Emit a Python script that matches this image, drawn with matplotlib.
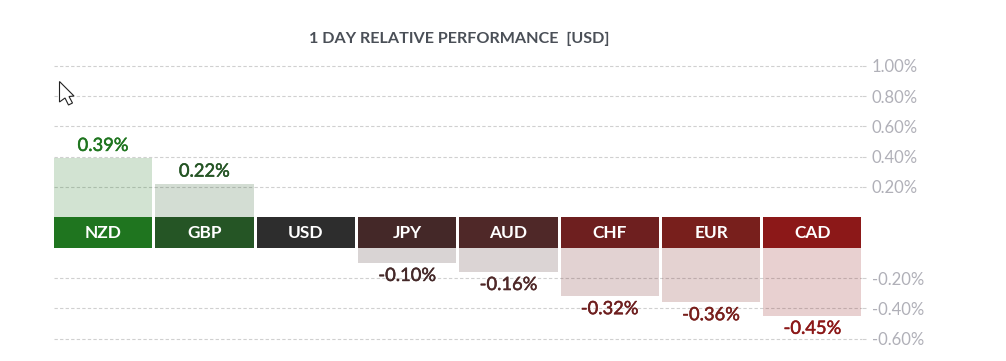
import numpy as np
import matplotlib
matplotlib.use('Agg')
import matplotlib.pyplot as plt
import matplotlib.patheffects as pe
from matplotlib.patches import Polygon

plt.rcParams['font.family'] = ['Lato', 'DejaVu Sans']

currencies = ['NZD', 'GBP', 'USD', 'JPY', 'AUD', 'CHF', 'EUR', 'CAD']
values = [0.39, 0.22, 0.0, -0.10, -0.16, -0.32, -0.36, -0.45]
colors = ['#1f751f', '#255525', '#2d2d2d', '#442828',
          '#4f2828', '#6e1f1f', '#781f1c', '#8c1818']
pos_ticks = [0.2, 0.4, 0.6, 0.8, 1.0]
neg_ticks = [-0.2, -0.4, -0.6]

W, H = 1006, 361
X0, X1 = 54, 861.5
ZERO_TOP, ZERO_BOT = 217, 248
PX_PER_PCT = 151.0
TOP_Y, BOT_Y = 60, 345
BAR_W = 0.97


def make_axes(y_top, y_bot):
    return fig.add_axes([X0 / W, 1 - y_bot / H, (X1 - X0) / W, (y_bot - y_top) / H])


fig = plt.figure(figsize=(W / 100, H / 100), dpi=100, facecolor='white')
ax_top = make_axes(TOP_Y, ZERO_TOP)
ax_band = make_axes(ZERO_TOP, ZERO_BOT)
ax_bot = make_axes(ZERO_BOT, BOT_Y)

ax_top.set_ylim(0, (ZERO_TOP - TOP_Y) / PX_PER_PCT)
ax_bot.set_ylim(-(BOT_Y - ZERO_BOT) / PX_PER_PCT, 0)

x = np.arange(len(currencies))
for ax in (ax_top, ax_band, ax_bot):
    ax.set_xlim(-BAR_W / 2, len(currencies) - 1 + BAR_W / 2)
    ax.patch.set_alpha(0)
    for s in ax.spines.values():
        s.set_visible(False)
    ax.set_xticks([])

ax_band.set_ylim(0, 1)
ax_band.set_yticks([])
ax_band.bar(x, 1, width=BAR_W, bottom=0, color=colors)
for i, name in enumerate(currencies):
    ax_band.text(i, 0.47, name, color='white', ha='center', va='center',
                 fontsize=12.4, fontweight='bold')

for ax, ticks in ((ax_top, pos_ticks), (ax_bot, neg_ticks)):
    ax.set_axisbelow(True)
    ax.yaxis.tick_right()
    ax.set_yticks(ticks)
    ax.set_yticklabels(['%.2f%%' % t for t in ticks])
    ax.tick_params(axis='y', length=3, width=0.8, color='#d0d0d0', pad=4.3,
                   labelcolor='#b0b0b8', labelsize=12)
    ax.grid(axis='y', color='#d0d0d0', linewidth=0.8, linestyle=(0, (3, 2)))

for i, v in enumerate(values):
    if v > 0:
        ax_top.bar(i, v, width=BAR_W, color=colors[i], alpha=0.2, linewidth=0)
        lab = ax_top.annotate('%.2f%%' % v, (i, v), xytext=(0, 3), textcoords='offset points',
                              ha='center', va='bottom', color=colors[i], fontsize=13.2)
    elif v < 0:
        ax_bot.bar(i, v, width=BAR_W, color=colors[i], alpha=0.2, linewidth=0)
        lab = ax_bot.annotate('%.2f%%' % v, (i, v), xytext=(0, -3.5), textcoords='offset points',
                              ha='center', va='top', color=colors[i], fontsize=13.2)
    else:
        continue
    # reference labels are a bit heavier than Lato regular
    lab.set_path_effects([pe.withStroke(linewidth=0.35, foreground=colors[i])])

fig.text(459.5 / W, 1 - 39 / H, '1 DAY RELATIVE PERFORMANCE  [USD]', ha='center', va='center',
         color='#4a4f57', fontsize=11.6, fontweight='bold')

# mouse pointer left in the screenshot
cursor = [(59.5, 81.5), (74, 96), (69, 96.5), (72.5, 103), (68.5, 105), (65, 98), (59.5, 102)]
fig.add_artist(Polygon([(px / W, 1 - py / H) for px, py in cursor], closed=True,
                       transform=fig.transFigure, facecolor='white',
                       edgecolor='#222222', linewidth=0.8))

fig.savefig('out.png', dpi=100)
